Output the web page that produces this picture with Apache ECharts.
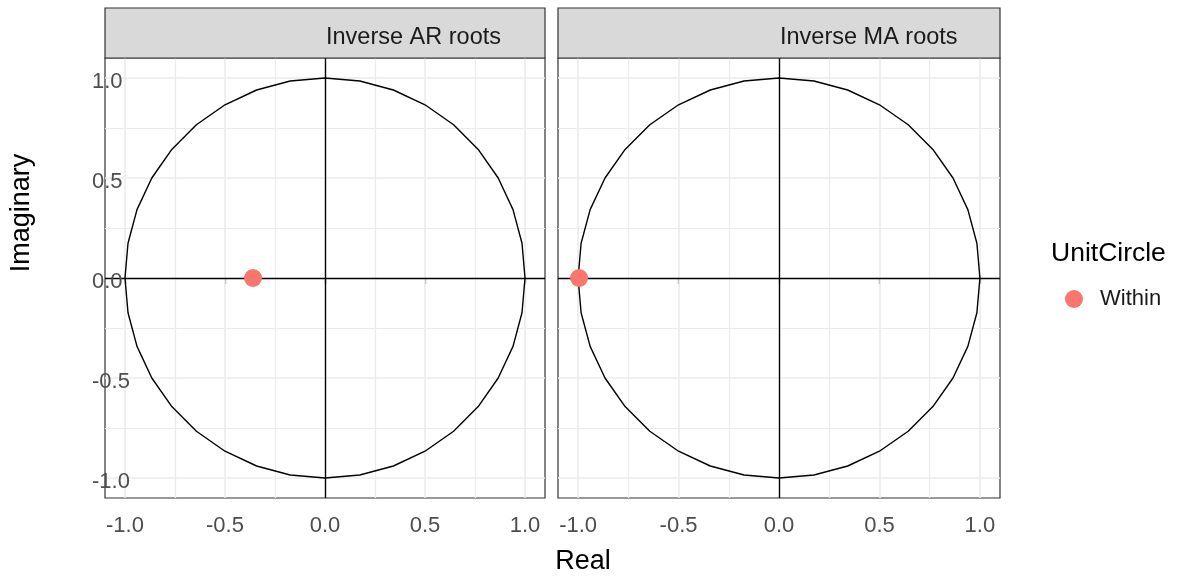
<!DOCTYPE html>
<html>
<head>
<meta charset="utf-8">
<script src="https://cdn.jsdelivr.net/npm/echarts@6/dist/echarts.min.js"></script>
<style>
html,body{margin:0;padding:0;background:#fff;}
#main{width:1179px;height:576px;}
</style>
</head>
<body>
<div id="main"></div>
<script>
// ---- data ----
var panelTitles = ['Inverse AR roots', 'Inverse MA roots'];
var xTickLabels = ['-1.0', '-0.5', '0.0', '0.5', '1.0'];
var yTickLabels = ['-1.0', '-0.5', '0.0', '0.5', '1.0'];
// unit circle vertices (10 degree steps)
var circleX = [1.000, 0.985, 0.940, 0.866, 0.766, 0.643, 0.500, 0.342, 0.174, 0.000,
  -0.174, -0.342, -0.500, -0.643, -0.766, -0.866, -0.940, -0.985, -1.000,
  -0.985, -0.940, -0.866, -0.766, -0.643, -0.500, -0.342, -0.174, 0.000,
  0.174, 0.342, 0.500, 0.643, 0.766, 0.866, 0.940, 0.985, 1.000];
var circleY = [0.000, 0.174, 0.342, 0.500, 0.643, 0.766, 0.866, 0.940, 0.985, 1.000,
  0.985, 0.940, 0.866, 0.766, 0.643, 0.500, 0.342, 0.174, 0.000,
  -0.174, -0.342, -0.500, -0.643, -0.766, -0.866, -0.940, -0.985, -1.000,
  -0.985, -0.940, -0.866, -0.766, -0.643, -0.500, -0.342, -0.174, 0.000];
var arRootsReal = [-0.36];
var arRootsImag = [0.0];
var maRootsReal = [-0.995];
var maRootsImag = [0.0];
var legendTitle = 'UnitCircle';
var legendLabel = 'Within';

// ---- build ----
function zip(a, b) { return a.map(function (v, i) { return [v, b[i]]; }); }
var circle = zip(circleX, circleY);
var roots = [zip(arRootsReal, arRootsImag), zip(maRootsReal, maRootsImag)];

var grids = [
  { left: 105, top: 58, width: 440, height: 440 },
  { left: 558, top: 58, width: 442, height: 440 }
];

var xAxes = [], yAxes = [], series = [], graphics = [];
grids.forEach(function (g, i) {
  g.show = true; g.borderColor = '#333333'; g.borderWidth = 1.2; g.backgroundColor = 'transparent';
  g.containLabel = false;
  xAxes.push({
    type: 'value', gridIndex: i, min: -1.1, max: 1.1, interval: 0.5,
    axisLine: { show: false },
    axisTick: { show: true, length: 6, lineStyle: { color: '#333333', width: 1.2 },
      customValues: [-1, -0.5, 0, 0.5, 1] },
    axisLabel: { color: '#4D4D4D', fontSize: 22, fontFamily: 'Liberation Sans, Arial', margin: 17,
      customValues: [-1, -0.5, 0, 0.5, 1],
      formatter: function (v) { return xTickLabels[Math.round((v + 1) / 0.5)]; } },
    splitLine: { show: false },
    minorTick: { show: false },
    minorSplitLine: { show: false }
  });
  yAxes.push({
    type: 'value', gridIndex: i, min: -1.1, max: 1.1, interval: 0.5, z: 8,
    axisLine: { show: false },
    axisTick: { show: false },
    axisLabel: { show: i === 0, color: '#4D4D4D', fontSize: 22, fontFamily: 'Liberation Sans, Arial',
      align: 'left', margin: 13,
      rich: { t: { color: '#4D4D4D', fontSize: 22, fontFamily: 'Liberation Sans, Arial', padding: [8, 0, 0, 0] } },
      customValues: [-1, -0.5, 0, 0.5, 1],
      formatter: function (v) { return '{t|' + yTickLabels[Math.round((v + 1) / 0.5)] + '}'; } },
    splitLine: { show: false }
  });
  // grid lines drawn as mark lines on a helper series
  var gl = [];
  [-1, -0.75, -0.5, -0.25, 0.25, 0.5, 0.75, 1].forEach(function (v) {
    var major = Math.abs(v * 2 - Math.round(v * 2)) < 1e-9;
    gl.push({ xAxis: v, lineStyle: { color: '#EBEBEB', width: major ? 1.6 : 1.2, type: 'solid' } });
    gl.push({ yAxis: v, lineStyle: { color: '#EBEBEB', width: major ? 1.6 : 1.2, type: 'solid' } });
  });
  series.push({
    type: 'line', xAxisIndex: i, yAxisIndex: i, data: [], silent: true, z: 1,
    markLine: { z: 1, silent: true, symbol: ['none', 'none'], label: { show: false }, animation: false, data: gl }
  });
  series.push({
    type: 'line', xAxisIndex: i, yAxisIndex: i, data: circle, showSymbol: false, symbol: 'none',
    smooth: false, silent: true, z: 3, animation: false,
    lineStyle: { color: '#000000', width: 1.4 },
    markLine: { z: 4, silent: true, symbol: ['none', 'none'], label: { show: false }, animation: false,
      lineStyle: { color: '#000000', width: 1.4, type: 'solid' },
      data: [{ xAxis: 0 }, { yAxis: 0 }] }
  });
  series.push({
    type: 'scatter', name: legendLabel, xAxisIndex: i, yAxisIndex: i, data: roots[i],
    symbol: 'circle', symbolSize: 18, z: 6, animation: false,
    itemStyle: { color: '#F8766D', opacity: 1 }
  });
  // strip
  graphics.push({
    type: 'rect', shape: { x: g.left, y: 8, width: g.width, height: 50 },
    style: { fill: '#D9D9D9', stroke: '#333333', lineWidth: 1.2 }, z: 10
  });
  graphics.push({
    type: 'text', x: g.left + g.width / 2 + 1, y: 38,
    style: { text: panelTitles[i], fill: '#1A1A1A', fontSize: 23.5, fontFamily: 'Liberation Sans, Arial',
      align: 'left', verticalAlign: 'middle' }, z: 11
  });
});

graphics.push({
  type: 'text', x: 583, y: 562,
  style: { text: 'Real', fill: '#000000', fontSize: 27, fontFamily: 'Liberation Sans, Arial',
    align: 'center', verticalAlign: 'middle' }
});
graphics.push({
  type: 'text', x: 22, y: 213, rotation: Math.PI / 2,
  style: { text: 'Imaginary', fill: '#000000', fontSize: 27, fontFamily: 'Liberation Sans, Arial',
    align: 'center', verticalAlign: 'middle' }
});
graphics.push({
  type: 'text', x: 1051, y: 254,
  style: { text: legendTitle, fill: '#000000', fontSize: 26.5, fontFamily: 'Liberation Sans, Arial',
    align: 'left', verticalAlign: 'middle' }
});

var chart = echarts.init(document.getElementById('main'), null, { renderer: 'canvas' });
chart.setOption({
  animation: false,
  backgroundColor: '#ffffff',
  grid: grids,
  xAxis: xAxes,
  yAxis: yAxes,
  series: series,
  graphic: graphics,
  legend: {
    data: [legendLabel], left: 1060, top: 283, orient: 'vertical',
    icon: 'circle', itemWidth: 18, itemHeight: 18, selectedMode: false,
    textStyle: { color: '#1A1A1A', fontSize: 22, fontFamily: 'Liberation Sans, Arial', padding: [0, 0, 0, 12] }
  }
});
</script>
</body>
</html>
